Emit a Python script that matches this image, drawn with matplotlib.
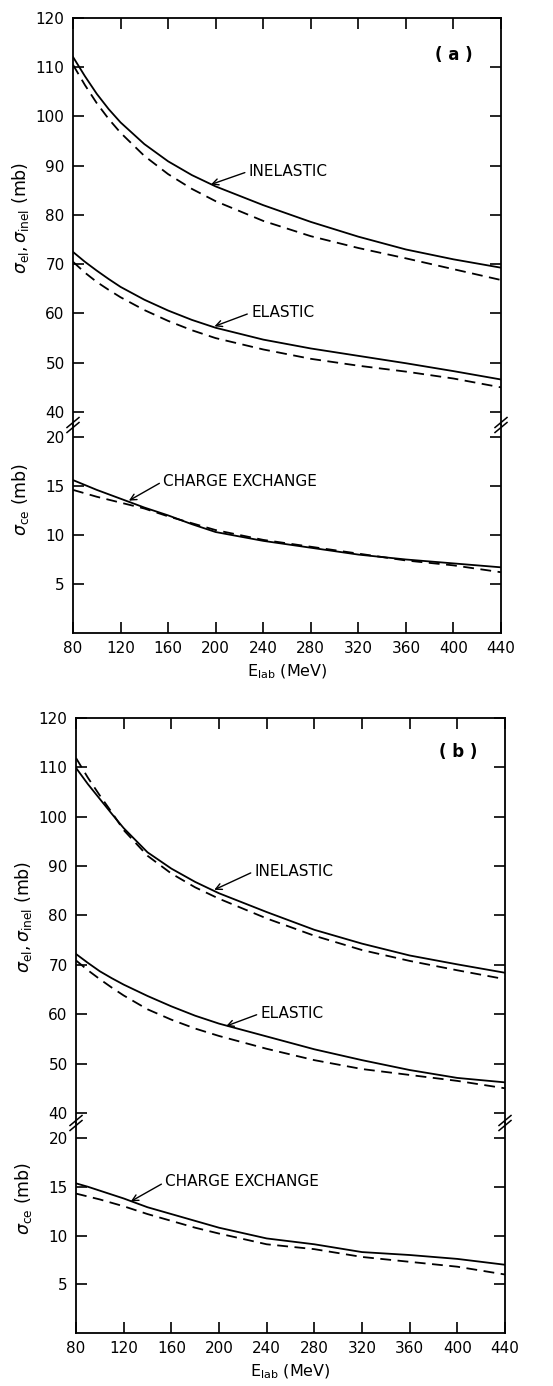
import matplotlib
matplotlib.use("Agg")
import matplotlib.pyplot as plt

plt.rcParams['font.family'] = ['DejaVu Sans']
plt.rcParams['mathtext.fontset'] = 'dejavusans'

# ================= DATOS =================
e_lab = [80, 90, 100, 110, 120, 140, 160, 180, 200, 240, 280, 320, 360, 400, 440]
x_ticks = [80, 120, 160, 200, 240, 280, 320, 360, 400, 440]
y_ticks_top = [40, 50, 60, 70, 80, 90, 100, 110, 120]
y_ticks_bot = [5, 10, 15, 20]

# panel (a)
a_inel_solid = [112.1, 108.2, 104.6, 101.5, 98.8, 94.4, 90.9, 88.1, 85.8, 82.0, 78.6, 75.6, 73.0, 71.0, 69.3]
a_inel_dash = [110.5, 106.4, 102.7, 99.5, 96.7, 92.0, 88.3, 85.3, 82.8, 78.8, 75.7, 73.3, 71.2, 69.0, 66.8]
a_el_solid = [72.5, 70.5, 68.7, 67.0, 65.4, 62.8, 60.6, 58.7, 57.1, 54.7, 52.9, 51.4, 49.9, 48.3, 46.6]
a_el_dash = [70.5, 68.3, 66.4, 64.8, 63.3, 60.7, 58.5, 56.6, 55.0, 52.7, 50.8, 49.4, 48.2, 46.8, 45.0]
a_ce_solid = [15.6, 15.1, 14.6, 14.15, 13.7, 12.8, 12.0, 11.1, 10.3, 9.4, 8.7, 8.0, 7.5, 7.1, 6.7]
a_ce_dash = [14.6, 14.25, 13.9, 13.6, 13.3, 12.7, 11.9, 11.2, 10.5, 9.5, 8.8, 8.1, 7.4, 6.9, 6.2]

# panel (b)
b_inel_solid = [109.9, 106.6, 103.6, 100.6, 97.7, 92.8, 89.5, 86.8, 84.5, 80.7, 77.1, 74.3, 71.9, 70.1, 68.4]
b_inel_dash = [111.9, 107.9, 104.3, 100.9, 97.3, 92.1, 88.5, 85.7, 83.4, 79.4, 75.9, 73.0, 70.8, 68.9, 67.1]
b_el_solid = [72.2, 70.4, 68.7, 67.3, 66.0, 63.7, 61.6, 59.7, 58.1, 55.5, 52.9, 50.7, 48.7, 47.1, 46.2]
b_el_dash = [70.9, 68.9, 67.1, 65.4, 63.8, 61.0, 58.9, 57.1, 55.6, 53.0, 50.7, 48.9, 47.7, 46.5, 45.0]
b_ce_solid = [15.35, 15.0, 14.6, 14.2, 13.8, 12.9, 12.2, 11.5, 10.8, 9.7, 9.1, 8.3, 8.0, 7.6, 7.0]
b_ce_dash = [14.3, 14.0, 13.7, 13.35, 13.0, 12.2, 11.5, 10.8, 10.2, 9.1, 8.6, 7.8, 7.3, 6.8, 6.0]

W, H = 553, 1386
LW = 1.3
DASH = (0, (6, 3.6))


def dibujar_panel(fig, caja, ylim_top, ylim_bot, curvas, etiquetas, letra):
    """caja = (izq, der, arriba, corte, abajo) en pixeles."""
    izq, der, arriba, corte, abajo = caja
    ax_t = fig.add_axes([izq / W, 1 - corte / H, (der - izq) / W, (corte - arriba) / H])
    ax_b = fig.add_axes([izq / W, 1 - abajo / H, (der - izq) / W, (abajo - corte) / H], sharex=ax_t)

    inel_s, inel_d, el_s, el_d, ce_s, ce_d = curvas
    for ys in (inel_s, el_s):
        ax_t.plot(e_lab, ys, color="black", lw=LW)
    for ys in (inel_d, el_d):
        ax_t.plot(e_lab, ys, color="black", lw=LW, linestyle=DASH)
    ax_b.plot(e_lab, ce_s, color="black", lw=LW)
    ax_b.plot(e_lab, ce_d, color="black", lw=LW, linestyle=DASH)

    ax_t.set_xlim(80, 440)
    ax_t.set_ylim(*ylim_top)
    ax_b.set_ylim(*ylim_bot)
    ax_t.set_xticks(x_ticks)
    ax_t.set_yticks(y_ticks_top)
    ax_b.set_yticks(y_ticks_bot)

    for ax in (ax_t, ax_b):
        for s in ax.spines.values():
            s.set_linewidth(LW)
        ax.tick_params(direction="in", length=8, width=1.2, labelsize=11,
                       right=True, top=True, pad=6)
    ax_t.spines["bottom"].set_visible(False)
    ax_b.spines["top"].set_visible(False)
    ax_t.tick_params(bottom=False, labelbottom=False)
    ax_b.tick_params(top=False)

    ax_t.set_ylabel(r"$\sigma_{\rm el},\sigma_{\rm inel}$ (mb)", fontsize=12.5)
    ax_b.set_ylabel(r"$\sigma_{\rm ce}$ (mb)", fontsize=12.5)
    ax_t.yaxis.set_label_coords(-0.098, 0.51)
    ax_b.yaxis.set_label_coords(-0.098, 0.64)
    ax_b.set_xlabel(r"E$_{\rm lab}$ (MeV)", fontsize=11.5)
    ax_b.xaxis.set_label_coords(0.5, -0.14)

    # marcas de corte //
    ancho = (der - izq)
    alto = (abajo - corte)
    dx, dy = 6 / ancho, 5 / alto
    for xb in (0, 1):
        for off in (-2.5 / alto, 2.5 / alto):
            ax_b.plot([xb - dx, xb + dx], [1 + off - dy, 1 + off + dy],
                      transform=ax_b.transAxes, color="black", lw=1.1, clip_on=False)

    # etiquetas con flechas
    for ax, (txt, tx, ty, px, py) in zip((ax_t, ax_t, ax_b), etiquetas):
        ax.annotate(txt, xy=(px, py), xytext=(tx, ty), fontsize=11, ha="left", va="center",
                    arrowprops=dict(arrowstyle="->", lw=1.0, color="black",
                                    shrinkA=1, shrinkB=0, relpos=(0, 0.5)))
    ax_t.text(letra[1], letra[2], letra[0], fontsize=12, fontweight="bold",
              ha="center", va="center")


fig = plt.figure(figsize=(W / 100, H / 100), dpi=100)

dibujar_panel(fig, (73, 501, 18, 425, 633), (37.36, 120), (0, 21.22),
              (a_inel_solid, a_inel_dash, a_el_solid, a_el_dash, a_ce_solid, a_ce_dash),
              [("INELASTIC", 228, 88.9, 196, 86.2),
               ("ELASTIC", 230, 60.2, 199, 57.4),
               ("CHARGE EXCHANGE", 156, 15.5, 127, 13.5)],
              ("( a )", 400, 112.5))

dibujar_panel(fig, (76, 505, 718, 1123, 1333), (37.97, 120), (0, 21.54),
              (b_inel_solid, b_inel_dash, b_el_solid, b_el_dash, b_ce_solid, b_ce_dash),
              [("INELASTIC", 230, 89.0, 196, 85.2),
               ("ELASTIC", 235, 60.2, 206, 57.6),
               ("CHARGE EXCHANGE", 155, 15.5, 126, 13.5)],
              ("( b )", 401, 113.2))

fig.savefig("out.png", dpi=100)
